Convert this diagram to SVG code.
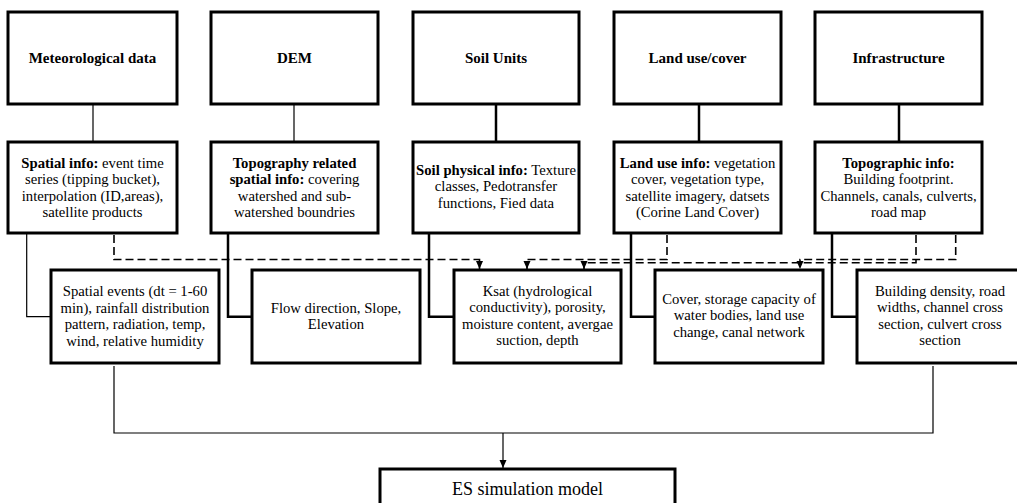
<svg xmlns="http://www.w3.org/2000/svg" width="1017" height="503" viewBox="0 0 1017 503">
<defs>
<style>
.box{fill:#fff;stroke:#000;stroke-width:3}
.t{font-family:"Liberation Serif","Times New Roman",serif;font-size:14.7px;text-anchor:middle;fill:#000}
.h{font-weight:bold;font-size:15px}
.b{font-weight:bold}
.c{fill:none;stroke:#000}
.thin{stroke-width:1.2}
.thick{stroke-width:2.5}
.dash{stroke-width:1.6;stroke-dasharray:8 4}
</style>
<marker id="arr" markerUnits="userSpaceOnUse" markerWidth="8" markerHeight="8" viewBox="0 0 8 8" refX="8" refY="4" orient="auto">
<path d="M0,0.5 L8,4 L0,7.5 Z" fill="#000"/>
</marker>
</defs>
<rect width="1017" height="503" fill="#fff"/>
<g id="connectors">
<path class="c thin" d="M93,104 V142"/>
<path class="c thin" d="M294,104 V142"/>
<path class="c thick" d="M496,104 V142"/>
<path class="c thick" d="M699,104 V142"/>
<path class="c thick" d="M899,104 V142"/>
<path class="c thin" d="M26.7,233 V316.7 H51"/>
<path class="c thick" d="M228,233 V316.7 H252"/>
<path class="c thick" d="M429,233 V316.7 H454"/>
<path class="c thick" d="M631,233 V316.7 H655"/>
<path class="c thick" d="M832,233 V316.7 H857"/>
<path class="c dash" d="M114,235 V259.5 H479.5 V269" marker-end="url(#arr)"/>
<path class="c dash" d="M667,235 V259.5 H527 V269" marker-end="url(#arr)"/>
<path class="c dash" d="M916,235 V262.7 H584 V269" marker-end="url(#arr)"/>
<path class="c dash" d="M955.7,235 V259.5 H800 V269" marker-end="url(#arr)"/>
<path class="c thin" d="M114,366 V433 H933 V366"/>
<path class="c thin" d="M503,433 V468" marker-end="url(#arr)"/>
</g>
<g id="n-met">
<rect class="box" x="8" y="12" width="169" height="92"/>
<text class="t h" x="92.5" y="62.5">Meteorological data</text>
</g>
<g id="n-dem">
<rect class="box" x="211" y="12" width="167" height="92"/>
<text class="t h" x="294.5" y="62.5">DEM</text>
</g>
<g id="n-soil">
<rect class="box" x="413" y="12" width="166" height="92"/>
<text class="t h" x="496" y="62.5">Soil Units</text>
</g>
<g id="n-land">
<rect class="box" x="614" y="12" width="167" height="92"/>
<text class="t h" x="697.5" y="62.5">Land use/cover</text>
</g>
<g id="n-infra">
<rect class="box" x="815" y="12" width="167" height="92"/>
<text class="t h" x="898.5" y="62.5">Infrastructure</text>
</g>
<g id="m-met">
<rect class="box" x="8" y="142" width="169" height="91"/>
<text class="t" x="92.5" y="167.5"><tspan class="b">Spatial info:</tspan> event time</text>
<text class="t" x="92.5" y="184">series (tipping bucket),</text>
<text class="t" x="92.5" y="200.5">interpolation (ID,areas),</text>
<text class="t" x="92.5" y="217">satellite products</text>
</g>
<g id="m-dem">
<rect class="box" x="211" y="142" width="167" height="91"/>
<text class="t b" x="294.5" y="167.5">Topography related</text>
<text class="t" x="294.5" y="184"><tspan class="b">spatial info:</tspan> covering</text>
<text class="t" x="294.5" y="200.5">watershed and sub-</text>
<text class="t" x="294.5" y="217">watershed boundries</text>
</g>
<g id="m-soil">
<rect class="box" x="413" y="142" width="166" height="91"/>
<text class="t" x="496" y="174.5"><tspan class="b">Soil physical info:</tspan> Texture</text>
<text class="t" x="496" y="191">classes, Pedotransfer</text>
<text class="t" x="496" y="207.5">functions, Fied data</text>
</g>
<g id="m-land">
<rect class="box" x="614" y="142" width="167" height="91"/>
<text class="t" x="697.5" y="167.5"><tspan class="b">Land use info:</tspan> vegetation</text>
<text class="t" x="697.5" y="184">cover, vegetation type,</text>
<text class="t" x="697.5" y="200.5">satellite imagery, datsets</text>
<text class="t" x="697.5" y="217">(Corine Land Cover)</text>
</g>
<g id="m-infra">
<rect class="box" x="815" y="142" width="167" height="91"/>
<text class="t b" x="898.5" y="167.5">Topographic info:</text>
<text class="t" x="898.5" y="184">Building footprint.</text>
<text class="t" x="898.5" y="200.5">Channels, canals, culverts,</text>
<text class="t" x="898.5" y="217">road map</text>
</g>
<g id="b-met">
<rect class="box" x="51" y="270" width="168" height="93"/>
<text class="t" x="135" y="296">Spatial events (dt = 1-60</text>
<text class="t" x="135" y="312.5">min), rainfall distribution</text>
<text class="t" x="135" y="329">pattern, radiation, temp,</text>
<text class="t" x="135" y="345.5">wind, relative humidity</text>
</g>
<g id="b-dem">
<rect class="box" x="252" y="270" width="168" height="93"/>
<text class="t" x="336" y="312.5">Flow direction, Slope,</text>
<text class="t" x="336" y="329">Elevation</text>
</g>
<g id="b-soil">
<rect class="box" x="454" y="270" width="167" height="93"/>
<text class="t" x="537.5" y="295.5">Ksat (hydrological</text>
<text class="t" x="537.5" y="312">conductivity), porosity,</text>
<text class="t" x="537.5" y="328.5">moisture content, avergae</text>
<text class="t" x="537.5" y="345">suction, depth</text>
</g>
<g id="b-land">
<rect class="box" x="655" y="270" width="168" height="93"/>
<text class="t" x="739" y="303.5">Cover, storage capacity of</text>
<text class="t" x="739" y="320">water bodies, land use</text>
<text class="t" x="739" y="336.5">change, canal network</text>
</g>
<g id="b-infra">
<rect class="box" x="857" y="270" width="167" height="93"/>
<text class="t" x="940" y="295.5">Building density, road</text>
<text class="t" x="940" y="312">widths, channel cross</text>
<text class="t" x="940" y="328.5">section, culvert cross</text>
<text class="t" x="940" y="345">section</text>
</g>
<g id="es">
<rect class="box" x="380" y="469" width="295" height="50"/>
<text class="t" x="527.5" y="494.5" style="font-size:18px">ES simulation model</text>
</g>
</svg>
